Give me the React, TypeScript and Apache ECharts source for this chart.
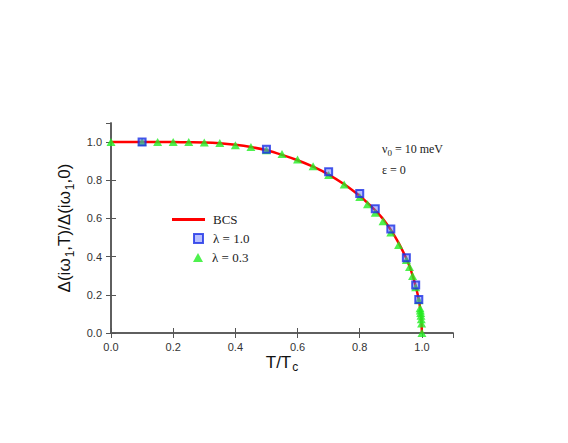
import React, { useEffect, useRef } from "react";
import * as echarts from "echarts";

const bcsT = [0, 0.05, 0.1, 0.15, 0.2, 0.25, 0.3, 0.35, 0.4, 0.45, 0.5, 0.55, 0.6, 0.65, 0.7, 0.75, 0.8, 0.825, 0.85, 0.875, 0.9, 0.925, 0.95, 0.96, 0.97, 0.98, 0.99, 0.995, 0.998, 1.0];
const bcsGap = [1, 1, 1, 1, 1, 0.999, 0.998, 0.994, 0.986, 0.974, 0.957, 0.933, 0.905, 0.871, 0.83, 0.779, 0.718, 0.682, 0.642, 0.597, 0.54, 0.472, 0.39, 0.35, 0.302, 0.245, 0.175, 0.123, 0.078, 0];

const lam10T = [0.1, 0.5, 0.7, 0.8, 0.85, 0.9, 0.95, 0.98, 0.99];
const lam10Gap = [1.0, 0.962, 0.845, 0.731, 0.651, 0.545, 0.394, 0.251, 0.176];

const lam03T = [0, 0.1, 0.15, 0.2, 0.25, 0.3, 0.35, 0.4, 0.45, 0.5, 0.55, 0.6, 0.65, 0.7, 0.75, 0.8, 0.825, 0.85, 0.875, 0.9, 0.925, 0.95, 0.96, 0.97, 0.98, 0.99, 0.994, 0.995, 0.996, 0.997, 0.998, 0.999, 1.0];
const lam03Gap = [1.0, 1.0, 1.0, 1.0, 1.0, 0.998, 0.995, 0.984, 0.974, 0.957, 0.937, 0.909, 0.874, 0.828, 0.778, 0.712, 0.674, 0.63, 0.586, 0.527, 0.461, 0.382, 0.346, 0.298, 0.24, 0.172, 0.13, 0.118, 0.105, 0.09, 0.072, 0.05, 0];

const zip = (a: number[], b: number[]) => a.map((v, i) => [v, b[i]]);

const frameColor = "#555";
const sans = "Liberation Sans, Arial, sans-serif";
const serif = "Liberation Serif, Times New Roman, serif";

export default function App() {
  const ref = useRef<HTMLDivElement>(null);
  useEffect(() => {
    if (!ref.current) return;
    const chart = echarts.init(ref.current, null, { renderer: "svg" });
    const axisCommon = {
      type: "value" as const,
      min: 0,
      max: 1.1,
      interval: 0.2,
      splitLine: { show: false },
      axisLine: { show: true, lineStyle: { color: frameColor, width: 1.5 } },
      axisTick: { show: true, inside: true, length: 5, lineStyle: { color: frameColor, width: 1 } },
    };
    const labelCommon = {
      color: "#333",
      fontSize: 11,
      fontFamily: sans,
      showMaxLabel: false,
      formatter: (v: number) => v.toFixed(1),
    };
    const legendText = { fontFamily: serif, fontSize: 13, color: "#222" };
    chart.setOption({
      animation: false,
      backgroundColor: "#fff",
      grid: { left: 111, right: 115, top: 123, bottom: 110 },
      xAxis: [
        {
          ...axisCommon,
          position: "bottom",
          axisLabel: { ...labelCommon, margin: 8 },
          name: "{a|T/T}{s|c}",
          nameLocation: "middle",
          nameGap: 18,
          nameTextStyle: {
            rich: {
              a: { fontSize: 17, fontFamily: sans, color: "#111" },
              s: { fontSize: 12, fontFamily: sans, color: "#111", padding: [10, 0, 0, 1] },
            },
          },
        },
        {
          ...axisCommon,
          position: "top",
          axisLabel: { show: false },
        },
      ],
      yAxis: [
        {
          ...axisCommon,
          position: "left",
          axisLabel: { ...labelCommon, margin: 9 },
          name: "{a|Δ(iω}{s|1}{a|,T)/Δ(iω}{s|1}{a|,0)}",
          nameLocation: "middle",
          nameGap: 31,
          nameRotate: 90,
          nameTextStyle: {
            rich: {
              a: { fontSize: 17, fontFamily: sans, color: "#111" },
              s: { fontSize: 12, fontFamily: sans, color: "#111", padding: [10, 0, 0, 1] },
            },
          },
        },
        {
          ...axisCommon,
          position: "right",
          axisLabel: { show: false },
        },
      ],
      legend: [
        {
          data: [{ name: "BCS", icon: "rect" }],
          left: 167,
          top: 208,
          itemWidth: 33,
          itemHeight: 3,
          textStyle: { ...legendText, padding: [0, 0, 0, 3] },
          selectedMode: false,
        },
        {
          data: ["λ = 1.0"],
          left: 188,
          top: 227,
          itemWidth: 9,
          itemHeight: 9,
          textStyle: { ...legendText, padding: [0, 0, 0, 5] },
          selectedMode: false,
        },
        {
          data: ["λ = 0.3"],
          left: 188,
          top: 246,
          itemWidth: 10,
          itemHeight: 9,
          textStyle: { ...legendText, padding: [0, 0, 0, 4] },
          selectedMode: false,
        },
      ],
      graphic: [
        {
          type: "text",
          left: 382,
          top: 143,
          style: {
            text: "{a|ν}{s|0}{a| = 10 meV}",
            rich: {
              a: { fontFamily: serif, fontSize: 12, fill: "#222" },
              s: { fontFamily: serif, fontSize: 9, fill: "#222", padding: [7, 0, 0, 0] },
            },
          },
        },
        {
          type: "text",
          left: 382,
          top: 164,
          style: { text: "ε = 0", fontFamily: serif, fontSize: 12, fill: "#222" },
        },
      ],
      series: [
        {
          name: "BCS",
          type: "line",
          data: zip(bcsT, bcsGap),
          showSymbol: false,
          symbol: "none",
          smooth: 0.2,
          lineStyle: { color: "#ff0000", width: 2.5 },
          itemStyle: { color: "#ff0000" },
          z: 2,
        },
        {
          name: "λ = 0.3",
          type: "scatter",
          data: zip(lam03T, lam03Gap),
          symbol: "triangle",
          symbolSize: [9, 8],
          itemStyle: { color: "#22ee22" },
          z: 3,
        },
        {
          name: "λ = 1.0",
          type: "scatter",
          data: zip(lam10T, lam10Gap),
          symbol: "rect",
          symbolSize: 7,
          itemStyle: { color: "rgba(90,110,255,0.55)", borderColor: "#1a30e6", borderWidth: 2 },
          z: 4,
        },
      ],
    });
    return () => chart.dispose();
  }, []);
  return <div ref={ref} style={{ position: "fixed", left: 0, top: 0, width: 568, height: 443 }} />;
}
